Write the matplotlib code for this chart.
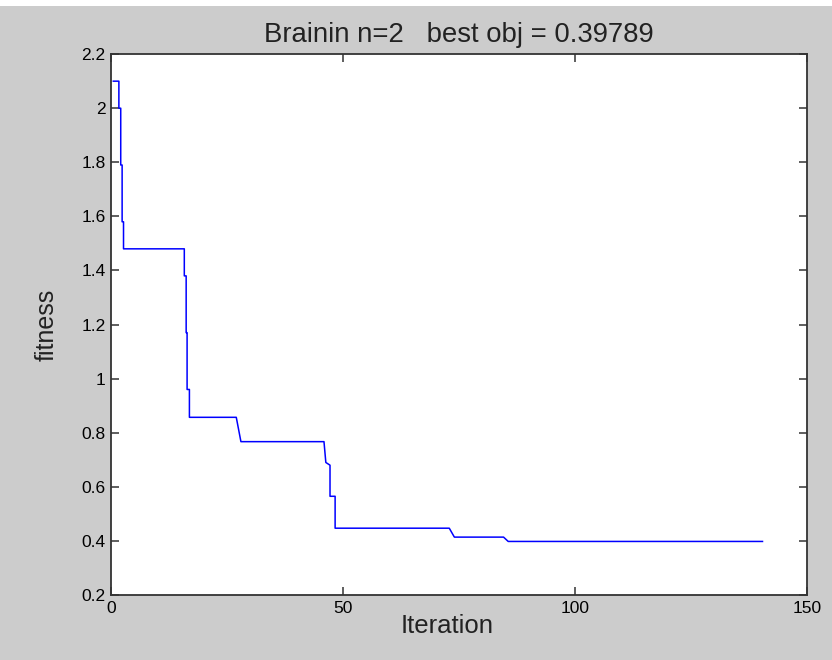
import matplotlib
matplotlib.use("Agg")
import matplotlib.pyplot as plt
from matplotlib.patches import Rectangle

# best fitness vs iteration (vertices of the staircase)
iteration = [0.5, 1.7, 1.7, 2.1, 2.1, 2.4, 2.4, 2.7, 2.7, 15.8, 15.8, 16.2, 16.2,
             16.4, 16.4, 16.9, 16.9, 27.0, 28.0, 45.9, 46.3, 47.2, 47.2, 48.3,
             48.3, 72.9, 74.0, 84.6, 85.6, 140.4]
fitness = [2.10, 2.10, 2.00, 2.00, 1.79, 1.79, 1.58, 1.58, 1.48, 1.48, 1.38, 1.38, 1.17,
           1.17, 0.96, 0.96, 0.857, 0.857, 0.767, 0.767, 0.69, 0.68, 0.565, 0.565,
           0.447, 0.447, 0.414, 0.414, 0.398, 0.398]

xticks = [0, 50, 100, 150]
yticks = [0.2, 0.4, 0.6, 0.8, 1, 1.2, 1.4, 1.6, 1.8, 2, 2.2]
ytick_labels = ["0.2", "0.4", "0.6", "0.8", "1", "1.2", "1.4", "1.6", "1.8", "2", "2.2"]

plt.rcParams['font.family'] = ['Liberation Sans', 'DejaVu Sans']

fig = plt.figure(figsize=(8.32, 6.6), dpi=100, facecolor='#cccccc')
# thin white strip along the top edge
fig.patches.append(Rectangle((0, 0.991), 1, 0.009, transform=fig.transFigure,
                             facecolor='white', edgecolor='none'))
ax = fig.add_axes([0.1334, 0.0985, 0.8366, 0.8195])
ax.set_facecolor('white')

ax.plot(iteration, fitness, color='#0000ff', lw=1.1)

ax.set_xlim(0, 150)
ax.set_ylim(0.2, 2.2)
ax.set_xticks(xticks)
ax.set_yticks(yticks)
ax.set_yticklabels(ytick_labels)
ax.tick_params(direction='in', length=6, width=1.1, color='#333333',
               labelsize=12.5, top=True, right=True, pad=4)
for s in ax.spines.values():
    s.set_color('#333333')
    s.set_linewidth(1.3)

ax.set_title('Brainin n=2   best obj = 0.39789', fontsize=19.8, color='#222222', pad=9)
ax.set_xlabel('Iteration', fontsize=18.5, color='#222222')
ax.xaxis.set_label_coords(0.483, -0.035, transform=ax.transAxes)
ax.xaxis.label.set_va('top')
ax.set_ylabel('fitness', fontsize=18, color='#222222', labelpad=16)

fig.savefig('out.png', dpi=100, facecolor=fig.get_facecolor())
